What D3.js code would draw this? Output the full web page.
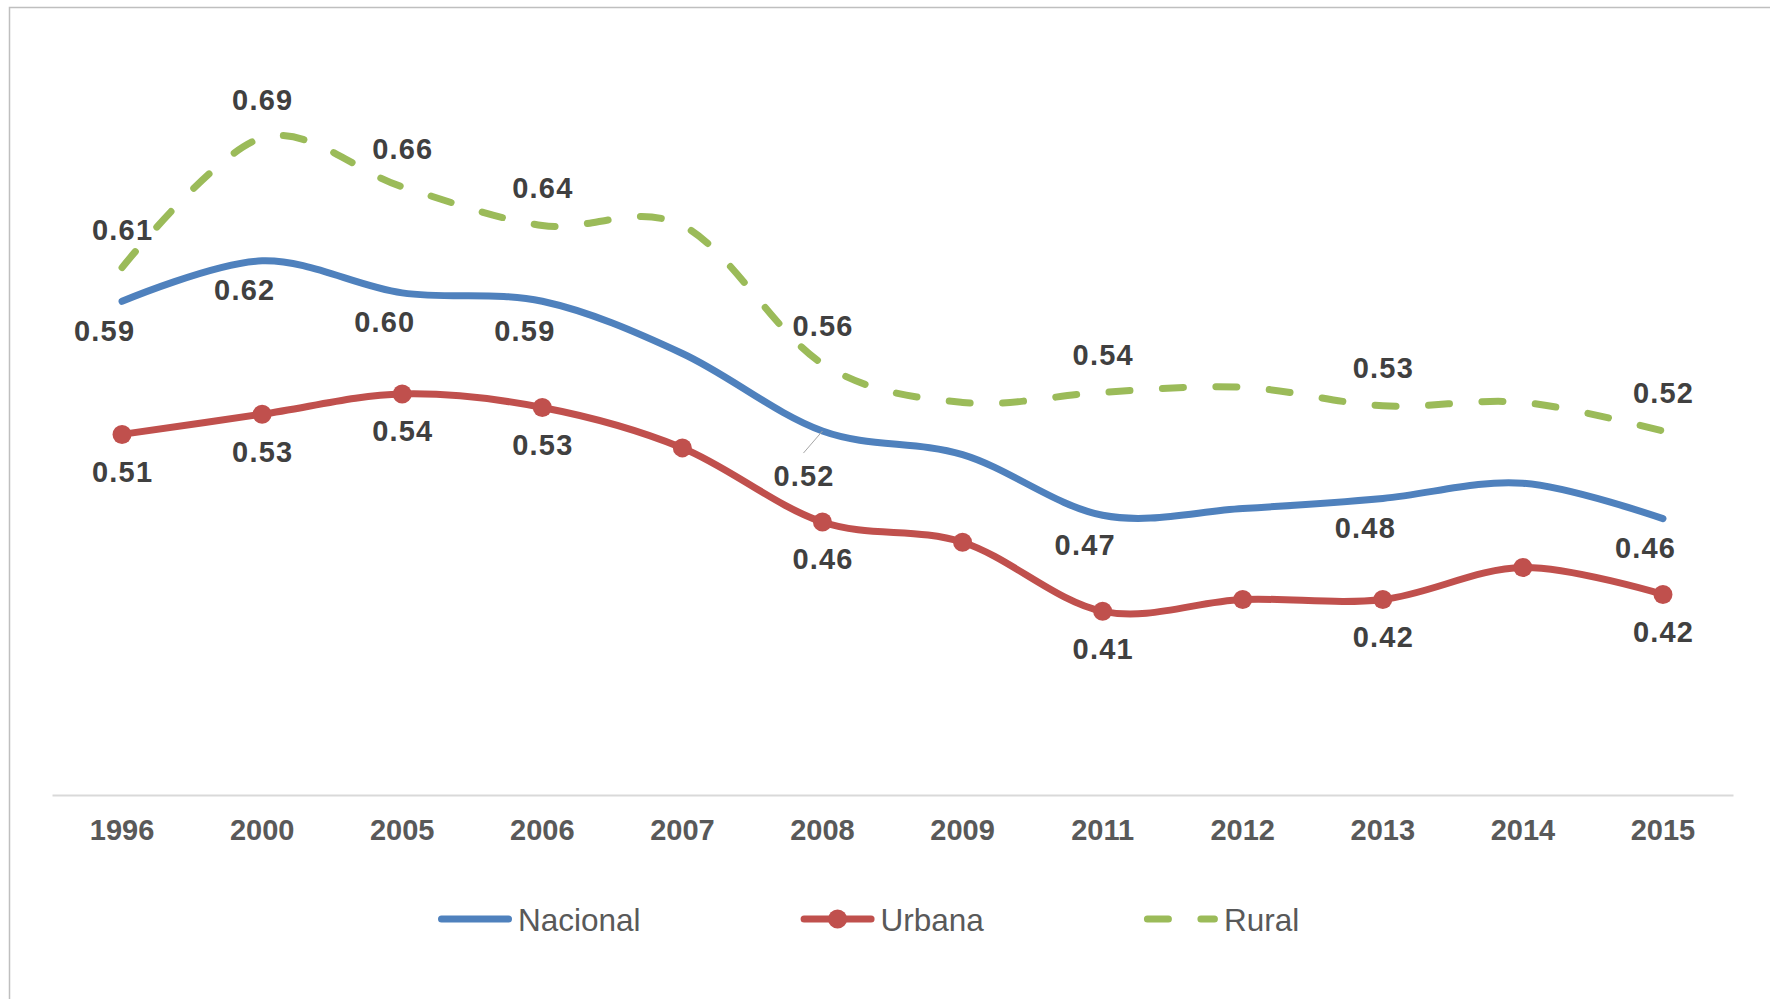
<!DOCTYPE html>
<html>
<head>
<meta charset="utf-8">
<script src="https://cdn.jsdelivr.net/npm/d3@7"></script>
<style>
  html, body { margin: 0; padding: 0; background: #ffffff; }
  svg { display: block; }
</style>
</head>
<body>
<svg id="chart" width="1770" height="999"></svg>
<script>
// ---- data ----
const years = ["1996", "2000", "2005", "2006", "2007", "2008", "2009", "2011", "2012", "2013", "2014", "2015"];
const nacional = [0.593, 0.617, 0.598, 0.593, 0.562, 0.516, 0.502, 0.466, 0.470, 0.476, 0.485, 0.464];
const urbana   = [0.514, 0.526, 0.538, 0.530, 0.506, 0.462, 0.450, 0.409, 0.416, 0.416, 0.435, 0.419];
const rural    = [0.613, 0.690, 0.661, 0.638, 0.638, 0.556, 0.533, 0.539, 0.542, 0.531, 0.533, 0.516];
const seriesNames = ["Nacional", "Urbana", "Rural"];
const labeledYears = ["1996", "2000", "2005", "2006", "2008", "2011", "2013", "2015"];
const yDomain = [0.3, 0.7];

// ---- layout / style ----
const W = 1770, H = 999;
const plot = { left: 52, right: 1733, top: 121, bottom: 795 };
const colors = { Nacional: "#4f81bd", Urbana: "#c0504d", Rural: "#9bbb59" };
const labelOffset = { Nacional: { dx: -18, dy: 29 }, Urbana: { dx: 0, dy: 37 }, Rural: { dx: 0, dy: -38 } };

const svg = d3.select("#chart");

// outer frame
svg.append("rect")
  .attr("x", 9.5).attr("y", 7.5)
  .attr("width", W + 20).attr("height", H + 20)
  .attr("fill", "none").attr("stroke", "#bfbfbf").attr("stroke-width", 1.5);

const x = d3.scaleBand().domain(years).range([plot.left, plot.right]).paddingInner(0).paddingOuter(0);
const xc = d => x(d) + x.bandwidth() / 2;
const y = d3.scaleLinear().domain(yDomain).range([plot.bottom, plot.top]);

// x axis
const xAxis = svg.append("g")
  .attr("transform", `translate(0,${plot.bottom})`)
  .call(d3.axisBottom(x).tickSize(0).tickPadding(0).tickSizeOuter(0));
xAxis.select(".domain").attr("stroke", "#d9d9d9").attr("stroke-width", 2);
xAxis.selectAll(".tick text")
  .attr("y", 45).attr("dy", null)
  .attr("fill", "#595959")
  .style("font-family", "'Liberation Sans', Arial, sans-serif")
  .style("font-size", "29px")
  .style("font-weight", "bold");

const series = [
  { name: "Nacional", values: nacional },
  { name: "Urbana", values: urbana },
  { name: "Rural", values: rural }
];

const line = d3.line()
  .x((d, i) => xc(years[i]))
  .y(d => y(d))
  .curve(d3.curveCardinal.tension(0));

const dash = "21,32.5";

series.forEach(s => {
  const p = svg.append("path")
    .datum(s.values)
    .attr("d", line)
    .attr("fill", "none")
    .attr("stroke", colors[s.name])
    .attr("stroke-width", 7)
    .attr("stroke-linecap", "round")
    .attr("stroke-linejoin", "round");
  if (s.name === "Rural") p.attr("stroke-dasharray", dash);
  if (s.name === "Urbana") {
    svg.append("g").selectAll("circle")
      .data(s.values)
      .join("circle")
      .attr("cx", (d, i) => xc(years[i]))
      .attr("cy", d => y(d))
      .attr("r", 9.5)
      .attr("fill", colors[s.name]);
  }
});

// data labels
const fmt = d3.format(".2f");
const labelG = svg.append("g")
  .style("font-family", "'Liberation Sans', Arial, sans-serif")
  .style("font-size", "29px")
  .style("font-weight", "bold")
  .attr("fill", "#404040")
  .attr("text-anchor", "middle");

series.forEach(s => {
  s.values.forEach((v, i) => {
    const yr = years[i];
    if (!labeledYears.includes(yr)) return;
    const px = xc(yr), py = y(v);
    let lx = px + labelOffset[s.name].dx;
    let ly = py + labelOffset[s.name].dy;
    if (s.name === "Nacional" && yr === "2008") {
      // moved label with leader line
      lx = px - 19; ly = py + 45;
      svg.append("line")
        .attr("x1", px - 19).attr("y1", py + 22)
        .attr("x2", px).attr("y2", py)
        .attr("stroke", "#a6a6a6").attr("stroke-width", 1);
    }
    labelG.append("text")
      .attr("x", lx + 0.6)
      .attr("y", ly + 10.4)
      .style("letter-spacing", "1.2px")
      .text(fmt(v));
  });
});

// legend
const legend = svg.append("g")
  .style("font-family", "'Liberation Sans', Arial, sans-serif")
  .style("font-size", "31.5px")
  .attr("fill", "#595959");
let lxPos = 438;
const legY = 919;
seriesNames.forEach(name => {
  const g = legend.append("g");
  const lineLen = 74;
  g.append("line")
    .attr("x1", lxPos + 3.5).attr("x2", lxPos + lineLen - 3.5)
    .attr("y1", legY).attr("y2", legY)
    .attr("stroke", colors[name]).attr("stroke-width", 7)
    .attr("stroke-linecap", "round")
    .attr("stroke-dasharray", name === "Rural" ? dash : null);
  if (name === "Urbana") {
    g.append("circle").attr("cx", lxPos + lineLen / 2).attr("cy", legY).attr("r", 9.5).attr("fill", colors[name]);
  }
  const t = g.append("text")
    .attr("x", lxPos + lineLen + 6)
    .attr("y", legY + 12)
    .text(name);
  const tw = t.node().getComputedTextLength();
  lxPos = lxPos + lineLen + 6 + tw + 160;
});
</script>
</body>
</html>
